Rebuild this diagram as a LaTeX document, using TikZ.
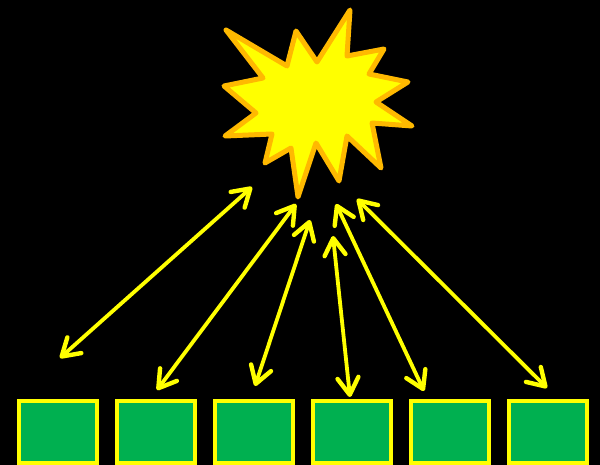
\documentclass[tikz,border=0pt]{standalone}
\usetikzlibrary{arrows.meta}
\definecolor{starfill}{HTML}{FFFF00}
\definecolor{starline}{HTML}{FFB900}
\definecolor{boxfill}{HTML}{00B050}
\definecolor{ylw}{HTML}{FFFF00}
\tikzset{
  greenbox/.style={draw=ylw, fill=boxfill, line width=4.3pt, minimum width=78pt, minimum height=62pt, inner sep=0pt, outer sep=0pt},
  ray/.style={draw=ylw, line width=3.8pt, line cap=round,
    {Straight Barb[length=17pt,width=21pt,line width=4.4pt,line cap=round,line join=round]}-{Straight Barb[length=17pt,width=21pt,line width=4.4pt,line cap=round,line join=round]}},
  burst/.style={fill=starfill, draw=starline, line width=5pt, line join=round}
}
\begin{document}
\begin{tikzpicture}[x=1pt,y=-1pt]
\fill[black] (0,0) rectangle (600,465);
\useasboundingbox (0,0) rectangle (600,465);
% star
\path[burst] (226,30) -- (287,66) -- (296,31) -- (317,62) -- (350,10) -- (347,56) -- (384,49) -- (369,74) -- (408,82) -- (376,102) -- (412,126) -- (372,123) -- (381,168) -- (347,136) -- (339,181) -- (316,143) -- (298,197) -- (291,148) -- (265,163) -- (272,134) -- (225,136) -- (256,113) -- (224,86) -- (263,78) -- cycle;
% boxes
\foreach \i/\x in {1/58,2/156,3/254,4/352,5/450,6/548}
  \node[greenbox] (b\i) at (\x,432) {};
% arrow end points
\coordinate (t1) at (252,187); \coordinate (e1) at (60,358);
\coordinate (t2) at (296,204); \coordinate (e2) at (157,390);
\coordinate (t3) at (310,220); \coordinate (e3) at (255,386);
\coordinate (t4) at (333,236); \coordinate (e4) at (350,397);
\coordinate (t5) at (336,204); \coordinate (e5) at (424,391);
\coordinate (t6) at (357,199); \coordinate (e6) at (547,388);
\foreach \i in {1,...,6}
  \draw[ray] (t\i) -- (e\i);
\end{tikzpicture}
\end{document}
